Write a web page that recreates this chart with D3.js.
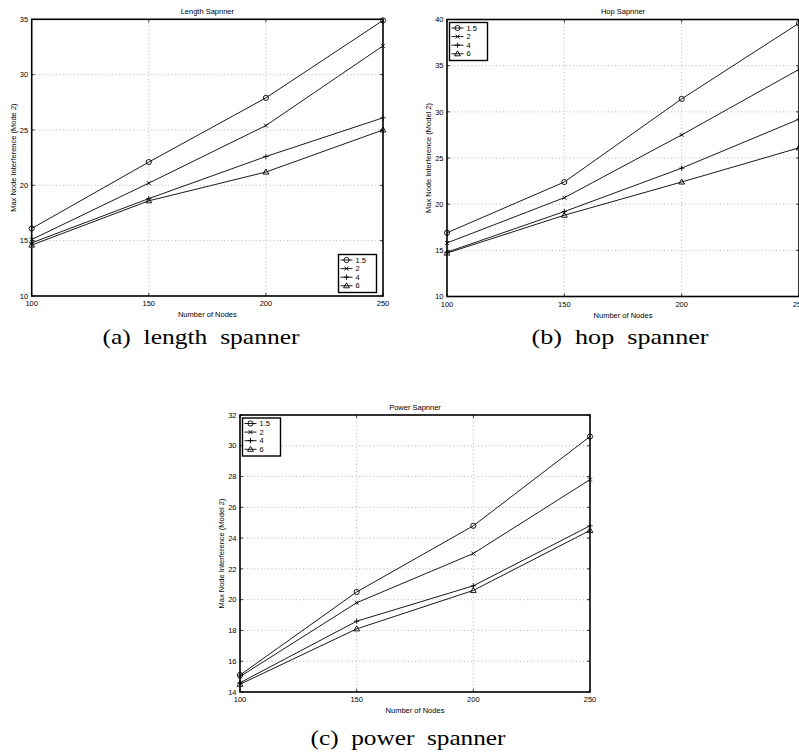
<!DOCTYPE html>
<html>
<head>
<meta charset="utf-8">
<script src="https://cdn.jsdelivr.net/npm/d3@7"></script>
<style>
  body { margin: 0; background: #fff; }
  svg { display: block; }
</style>
</head>
<body>
<div id="chart"></div>
<script>
// x values shared by all three panels
const nodes = [100, 150, 200, 250];
const stretchLabels = ["1.5", "2", "4", "6"];
const markerTypes = ["circle", "x", "plus", "triangle"];

// one row per stretch factor (1.5, 2, 4, 6)
const lengthSeries = [
    [16.1, 22.1, 27.9, 34.9],
    [15.1, 20.2, 25.4, 32.6],
    [14.8, 18.8, 22.6, 26.1],
    [14.6, 18.6, 21.2, 25.0]
];
const hopSeries = [
    [16.9, 22.4, 31.4, 39.6],
    [15.8, 20.7, 27.5, 34.6],
    [14.8, 19.2, 23.9, 29.2],
    [14.7, 18.8, 22.4, 26.1]
];
const powerSeries = [
    [15.1, 20.5, 24.8, 30.6],
    [15.0, 19.8, 23.0, 27.8],
    [14.6, 18.6, 20.9, 24.8],
    [14.5, 18.1, 20.6, 24.5]
];

const lengthYTicks = [10, 15, 20, 25, 30, 35];
const hopYTicks = [10, 15, 20, 25, 30, 35, 40];
const powerYTicks = [14, 16, 18, 20, 22, 24, 26, 28, 30, 32];

const width = 799;
const height = 754;

const svg = d3.select("#chart").append("svg")
    .attr("width", width)
    .attr("height", height)
    .attr("viewBox", [0, 0, width, height])
    .style("font-family", "'Liberation Sans', Arial, sans-serif");

// Draws one small marker centered on 0,0
function drawMarker(g, type) {
    const s = 2.6;
    if (type === "circle") {
        g.append("circle").attr("r", s).attr("fill", "none").attr("stroke", "#000").attr("stroke-width", 0.9);
    } else if (type === "x") {
        g.append("path").attr("d", `M${-s + 0.6},${-s + 0.6}L${s - 0.6},${s - 0.6}M${-s + 0.6},${s - 0.6}L${s - 0.6},${-s + 0.6}`)
            .attr("stroke", "#000").attr("stroke-width", 0.9);
    } else if (type === "plus") {
        g.append("path").attr("d", `M${-s},0H${s}M0,${-s}V${s}`)
            .attr("stroke", "#000").attr("stroke-width", 0.9);
    } else {
        g.append("path").attr("d", `M0,${-s - 0.4}L${s + 0.3},${s - 0.6}H${-s - 0.3}Z`)
            .attr("fill", "none").attr("stroke", "#000").attr("stroke-width", 0.9);
    }
}

function drawPanel(opts) {
    const { left, right, top, bottom, series, yTicks, title, yLabel, legendPos, caption } = opts;

    const x = d3.scaleLinear().domain([100, 250]).range([left, right]);
    const y = d3.scaleLinear().domain([yTicks[0], yTicks[yTicks.length - 1]]).range([bottom, top]);

    const g = svg.append("g");

    // dotted grid
    g.append("g").selectAll("line")
        .data(nodes.slice(1, -1))
        .join("line")
        .attr("x1", d => x(d)).attr("x2", d => x(d))
        .attr("y1", top).attr("y2", bottom)
        .attr("stroke", "#888").attr("stroke-width", 0.6).attr("stroke-dasharray", "1,2.5");
    g.append("g").selectAll("line")
        .data(yTicks.slice(1, -1))
        .join("line")
        .attr("x1", left).attr("x2", right)
        .attr("y1", d => y(d)).attr("y2", d => y(d))
        .attr("stroke", "#888").attr("stroke-width", 0.6).attr("stroke-dasharray", "1,2.5");

    // inner tick marks on all four sides
    const tickLen = 3;
    const ticks = g.append("g").attr("stroke", "#000").attr("stroke-width", 0.8);
    nodes.forEach(d => {
        ticks.append("line").attr("x1", x(d)).attr("x2", x(d)).attr("y1", bottom).attr("y2", bottom - tickLen);
        ticks.append("line").attr("x1", x(d)).attr("x2", x(d)).attr("y1", top).attr("y2", top + tickLen);
    });
    yTicks.forEach(d => {
        ticks.append("line").attr("x1", left).attr("x2", left + tickLen).attr("y1", y(d)).attr("y2", y(d));
        ticks.append("line").attr("x1", right).attr("x2", right - tickLen).attr("y1", y(d)).attr("y2", y(d));
    });

    // tick labels
    g.append("g").selectAll("text")
        .data(nodes)
        .join("text")
        .attr("x", d => x(d))
        .attr("y", bottom + 10)
        .attr("text-anchor", "middle")
        .attr("font-size", 7.5)
        .text(d => d);
    g.append("g").selectAll("text")
        .data(yTicks)
        .join("text")
        .attr("x", left - 3.5)
        .attr("y", d => y(d) + 2.7)
        .attr("text-anchor", "end")
        .attr("font-size", 7.5)
        .text(d => d);

    // series lines and markers
    const line = d3.line().x((d, i) => x(nodes[i])).y(d => y(d));
    series.forEach((values, k) => {
        g.append("path")
            .attr("d", line(values))
            .attr("fill", "none")
            .attr("stroke", "#000")
            .attr("stroke-width", 0.9);
        values.forEach((v, i) => {
            const m = g.append("g").attr("transform", `translate(${x(nodes[i])},${y(v)})`);
            drawMarker(m, markerTypes[k]);
        });
    });

    // box
    g.append("rect")
        .attr("x", left).attr("y", top)
        .attr("width", right - left).attr("height", bottom - top)
        .attr("fill", "none").attr("stroke", "#000").attr("stroke-width", 1.6);

    // titles
    g.append("text")
        .attr("x", (left + right) / 2)
        .attr("y", top - 5.5)
        .attr("text-anchor", "middle")
        .attr("font-size", 7.5)
        .text(title);
    g.append("text")
        .attr("x", (left + right) / 2)
        .attr("y", bottom + 21)
        .attr("text-anchor", "middle")
        .attr("font-size", 7.5)
        .text("Number of Nodes");
    g.append("text")
        .attr("transform", `translate(${left - 16},${(top + bottom) / 2}) rotate(-90)`)
        .attr("text-anchor", "middle")
        .attr("font-size", 7.5)
        .text(yLabel);

    // legend
    const lw = 38, lh = 38;
    const lx = legendPos === "br" ? right - 6.5 - lw : left + 2.5;
    const ly = legendPos === "br" ? bottom - 3.5 - lh : top + 3;
    const legend = g.append("g").attr("transform", `translate(${lx},${ly})`);
    legend.append("rect")
        .attr("width", lw).attr("height", lh)
        .attr("fill", "#fff").attr("stroke", "#000").attr("stroke-width", 1.4);
    stretchLabels.forEach((label, k) => {
        const row = legend.append("g").attr("transform", `translate(0,${5.5 + k * 8.6})`);
        row.append("line").attr("x1", 2).attr("x2", 14).attr("stroke", "#000").attr("stroke-width", 0.9);
        drawMarker(row.append("g").attr("transform", "translate(8,0)"), markerTypes[k]);
        row.append("text").attr("x", 17).attr("y", 2.6).attr("font-size", 7.5).text(label);
    });

    // caption below panel (stretched wide like the original figure)
    svg.append("text")
        .attr("x", caption.x - caption.len / 2)
        .attr("y", caption.y)
        .attr("font-family", "'Liberation Serif', 'Times New Roman', serif")
        .attr("font-size", 22)
        .attr("textLength", caption.len)
        .attr("lengthAdjust", "spacingAndGlyphs")
        .style("white-space", "pre")
        .text(caption.text);
}

drawPanel({
    left: 31.7, right: 383, top: 19.3, bottom: 296,
    series: lengthSeries, yTicks: lengthYTicks,
    title: "Length Sapnner", yLabel: "Max Node Interference (Mode 2)",
    legendPos: "br",
    caption: { x: 201, y: 344, len: 197, text: "(a)  length  spanner" }
});
drawPanel({
    left: 447, right: 799, top: 19.5, bottom: 296.5,
    series: hopSeries, yTicks: hopYTicks,
    title: "Hop Sapnner", yLabel: "Max Node Interference (Model 2)",
    legendPos: "tl",
    caption: { x: 620, y: 344, len: 177, text: "(b)  hop  spanner" }
});
drawPanel({
    left: 240, right: 590, top: 415, bottom: 692,
    series: powerSeries, yTicks: powerYTicks,
    title: "Power Sapnner", yLabel: "Max Node Interference (Model 2)",
    legendPos: "tl",
    caption: { x: 408, y: 745, len: 195, text: "(c)  power  spanner" }
});
</script>
</body>
</html>
